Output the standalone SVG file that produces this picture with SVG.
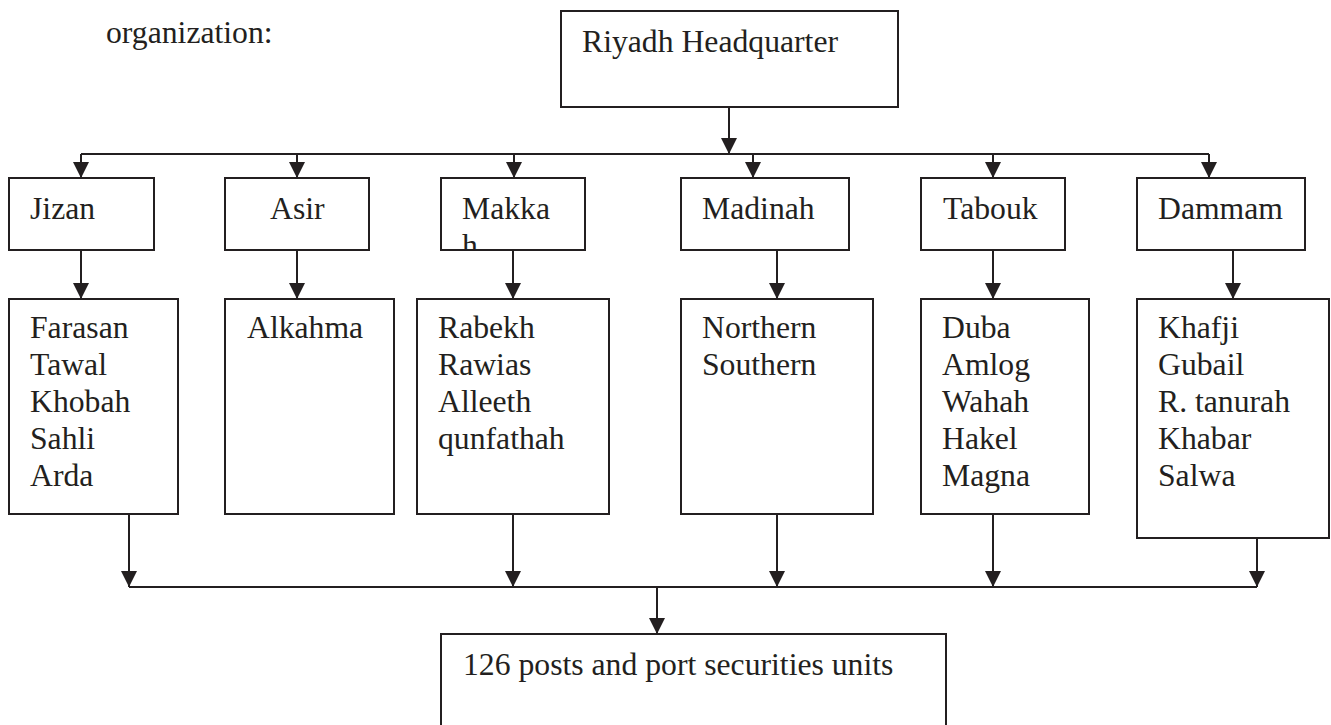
<svg xmlns="http://www.w3.org/2000/svg" width="1331" height="725" viewBox="0 0 1331 725">
  <style>
    .box { fill: #ffffff; stroke: #231f20; stroke-width: 2; }
    .lbl { font-family: 'Liberation Serif', 'Times New Roman', Times, 'DejaVu Serif', serif; font-size: 31.7px; fill: #231f20; }
    .wire { fill: none; stroke: #231f20; stroke-width: 2; }
    .arr { fill: none; stroke: #231f20; stroke-width: 2; marker-end: url(#head); }
  </style>
  <defs>
    <marker id="head" markerWidth="16" markerHeight="16" refX="16" refY="8" orient="auto" markerUnits="userSpaceOnUse">
      <path d="M0,0 L16,8 L0,16 Z" fill="#231f20"/>
    </marker>
    <clipPath id="makkaClip">
      <rect x="442" y="179" width="142" height="70"/>
    </clipPath>
  </defs>
  <rect width="1331" height="725" fill="#ffffff"/>

  <text class="lbl" x="106" y="43">organization:</text>

  <g id="connectors">
    <!-- headquarters to regions -->
    <line class="arr" x1="729" y1="107" x2="729" y2="154"/>
    <line class="wire" x1="81" y1="154" x2="1209" y2="154"/>
    <line class="arr" x1="81" y1="154" x2="81" y2="178"/>
    <line class="arr" x1="297" y1="154" x2="297" y2="178"/>
    <line class="arr" x1="514" y1="154" x2="514" y2="178"/>
    <line class="arr" x1="753" y1="154" x2="753" y2="178"/>
    <line class="arr" x1="993" y1="154" x2="993" y2="178"/>
    <line class="arr" x1="1209" y1="154" x2="1209" y2="178"/>
    <!-- regions to their posts -->
    <line class="arr" x1="81" y1="250" x2="81" y2="299"/>
    <line class="arr" x1="297" y1="250" x2="297" y2="299"/>
    <line class="arr" x1="513" y1="250" x2="513" y2="299"/>
    <line class="arr" x1="777" y1="250" x2="777" y2="299"/>
    <line class="arr" x1="993" y1="250" x2="993" y2="299"/>
    <line class="arr" x1="1233" y1="250" x2="1233" y2="299"/>
    <!-- posts to units -->
    <line class="arr" x1="129" y1="514" x2="129" y2="587"/>
    <line class="arr" x1="513" y1="514" x2="513" y2="587"/>
    <line class="arr" x1="777" y1="514" x2="777" y2="587"/>
    <line class="arr" x1="993" y1="514" x2="993" y2="587"/>
    <line class="arr" x1="1257" y1="538" x2="1257" y2="587"/>
    <line class="wire" x1="129" y1="587" x2="1257" y2="587"/>
    <line class="arr" x1="657" y1="587" x2="657" y2="634"/>
  </g>

  <g id="riyadh">
    <rect class="box" x="561" y="11" width="337" height="96"/>
    <text class="lbl" x="582" y="52">Riyadh Headquarter</text>
  </g>

  <g id="jizan">
    <rect class="box" x="9" y="178" width="145" height="72"/>
    <text class="lbl" x="30" y="219">Jizan</text>
  </g>
  <g id="asir">
    <rect class="box" x="225" y="178" width="144" height="72"/>
    <text class="lbl" x="270" y="219">Asir</text>
  </g>
  <g id="makka">
    <rect class="box" x="441" y="178" width="144" height="72"/>
    <g clip-path="url(#makkaClip)">
      <text class="lbl" x="462" y="219">Makka</text>
      <text class="lbl" x="462" y="256">h</text>
    </g>
  </g>
  <g id="madinah">
    <rect class="box" x="681" y="178" width="168" height="72"/>
    <text class="lbl" x="702" y="219">Madinah</text>
  </g>
  <g id="tabouk">
    <rect class="box" x="921" y="178" width="144" height="72"/>
    <text class="lbl" x="943" y="219">Tabouk</text>
  </g>
  <g id="dammam">
    <rect class="box" x="1137" y="178" width="168" height="72"/>
    <text class="lbl" x="1158" y="219">Dammam</text>
  </g>

  <g id="jizan-posts">
    <rect class="box" x="9" y="299" width="169" height="215"/>
    <text class="lbl" x="30" y="338">Farasan</text>
    <text class="lbl" x="30" y="375">Tawal</text>
    <text class="lbl" x="30" y="412">Khobah</text>
    <text class="lbl" x="30" y="449">Sahli</text>
    <text class="lbl" x="30" y="486">Arda</text>
  </g>
  <g id="asir-posts">
    <rect class="box" x="225" y="299" width="169" height="215"/>
    <text class="lbl" x="247" y="338">Alkahma</text>
  </g>
  <g id="makka-posts">
    <rect class="box" x="417" y="299" width="192" height="215"/>
    <text class="lbl" x="438" y="338">Rabekh</text>
    <text class="lbl" x="438" y="375">Rawias</text>
    <text class="lbl" x="438" y="412">Alleeth</text>
    <text class="lbl" x="438" y="449">qunfathah</text>
  </g>
  <g id="madinah-posts">
    <rect class="box" x="681" y="299" width="192" height="215"/>
    <text class="lbl" x="702" y="338">Northern</text>
    <text class="lbl" x="702" y="375">Southern</text>
  </g>
  <g id="tabouk-posts">
    <rect class="box" x="921" y="299" width="168" height="215"/>
    <text class="lbl" x="942" y="338">Duba</text>
    <text class="lbl" x="942" y="375">Amlog</text>
    <text class="lbl" x="942" y="412">Wahah</text>
    <text class="lbl" x="942" y="449">Hakel</text>
    <text class="lbl" x="942" y="486">Magna</text>
  </g>
  <g id="dammam-posts">
    <rect class="box" x="1137" y="299" width="192" height="239"/>
    <text class="lbl" x="1158" y="338">Khafji</text>
    <text class="lbl" x="1158" y="375">Gubail</text>
    <text class="lbl" x="1158" y="412">R. tanurah</text>
    <text class="lbl" x="1158" y="449">Khabar</text>
    <text class="lbl" x="1158" y="486">Salwa</text>
  </g>

  <g id="units">
    <rect class="box" x="441" y="634" width="505" height="120"/>
    <text class="lbl" x="463" y="675">126 posts and port securities units</text>
  </g>
</svg>
